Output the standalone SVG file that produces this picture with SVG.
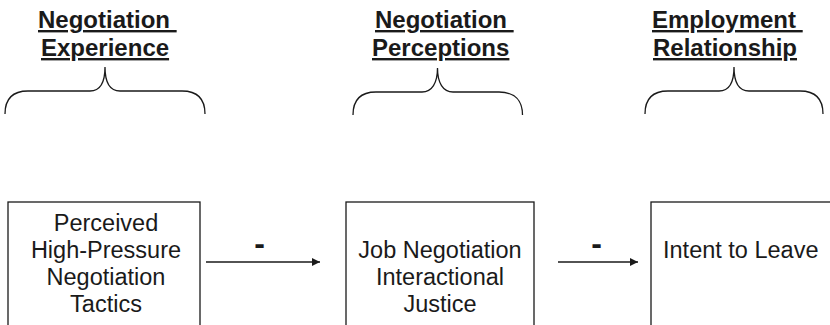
<svg xmlns="http://www.w3.org/2000/svg" width="830" height="325" viewBox="0 0 830 325">
<defs>
<style>
.h{font-family:"Liberation Sans",Arial,sans-serif;font-size:24px;font-weight:bold;fill:#1a1a1a;text-decoration:underline;white-space:pre}
.t{font-family:"Liberation Sans",Arial,sans-serif;font-size:23.5px;fill:#1a1a1a}
.m{text-anchor:middle}
.d{font-family:"Liberation Sans",Arial,sans-serif;font-size:32px;font-weight:bold;fill:#1a1a1a;text-anchor:middle}
.br{fill:none;stroke:#1a1a1a;stroke-width:1.3}
.box{fill:#fff;stroke:#1a1a1a;stroke-width:1.3}
.c{fill:none;stroke:#1a1a1a;stroke-width:1.6}
</style>
<marker id="ah" viewBox="0 0 10 10" refX="10" refY="5" markerWidth="8" markerHeight="8" markerUnits="userSpaceOnUse" orient="auto">
<path d="M0,0 L10,5 L0,10 z" fill="#1a1a1a"/>
</marker>
</defs>
<rect width="830" height="325" fill="#fff"/>
<g id="heading-experience">
<text class="h" x="38" y="28">Negotiation </text>
<text class="h" x="41" y="56">Experience</text>
<path class="br" d="M5,114 C5,100 12,91 28,91 L90,91 C100,91 105,82 105,67 C105,82 110,91 120,91 L182,91 C198,91 205,100 205,114"/>
</g>
<g id="heading-perceptions">
<text class="h" x="375" y="28">Negotiation </text>
<text class="h" x="372" y="56">Perceptions</text>
<path class="br" d="M353,115 C353,101 360,92 376,92 L422,92 C432,92 437.5,83 437.5,68 C437.5,83 443,92 453,92 L499,92 C515,92 522.5,101 522.5,115"/>
</g>
<g id="heading-relationship">
<text class="h" x="652" y="28">Employment </text>
<text class="h" x="653" y="56">Relationship</text>
<path class="br" d="M645,114 C645,100 652,91 668,91 L719,91 C729,91 734,82 734,67 C734,82 739,91 749,91 L800,91 C816,91 823,100 823,114"/>
</g>
<g id="node-tactics">
<rect class="box" x="8" y="202" width="192" height="140"/>
<text class="t m" x="106" y="231">Perceived</text>
<text class="t m" x="106" y="258">High-Pressure</text>
<text class="t m" x="106" y="285">Negotiation</text>
<text class="t m" x="106" y="312">Tactics</text>
</g>
<g id="node-justice">
<rect class="box" x="346" y="202" width="188" height="140"/>
<text class="t m" x="440" y="258">Job Negotiation</text>
<text class="t m" x="440" y="285">Interactional</text>
<text class="t m" x="440" y="312">Justice</text>
</g>
<g id="node-intent">
<rect class="box" x="651" y="202" width="200" height="140"/>
<text class="t" x="663" y="258">Intent to Leave</text>
</g>
<g id="connectors">
<line class="c" x1="206" y1="262" x2="320" y2="262" marker-end="url(#ah)"/>
<text class="d" x="259.5" y="254">-</text>
<line class="c" x1="558" y1="262" x2="638" y2="262" marker-end="url(#ah)"/>
<text class="d" x="596.5" y="254">-</text>
</g>
</svg>
